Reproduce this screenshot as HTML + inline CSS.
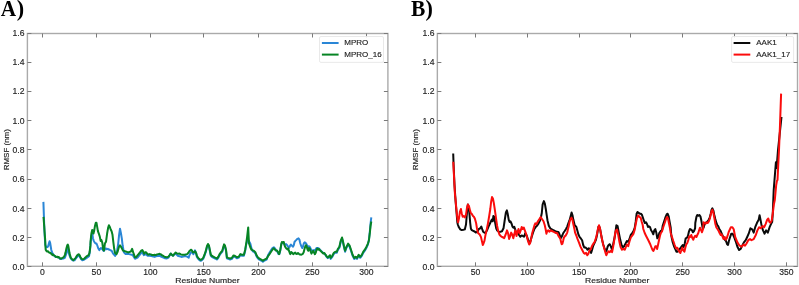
<!DOCTYPE html><html><head><meta charset="utf-8"><style>html,body{margin:0;padding:0;background:#fff;width:799px;height:285px;overflow:hidden}svg{display:block;will-change:transform}text{font-family:"Liberation Sans",sans-serif}.s{font-family:"Liberation Serif",serif;font-weight:bold}</style></head><body>
<svg width="799" height="285" viewBox="0 0 799 285">
<rect width="799" height="285" fill="#fff"/>
<polyline points="43.4,201.9 44.2,225.0 44.7,236.0 45.3,244.6 46.3,247.3 47.5,247.0 48.2,246.2 49.0,243.1 49.6,241.2 50.2,243.1 50.8,247.0 51.3,250.0 52.1,252.4 52.9,253.9 54.0,255.6 55.6,257.0 57.1,257.1 58.7,257.6 60.2,258.9 61.8,258.9 63.3,258.5 64.8,257.8 66.4,253.5 67.2,249.3 67.9,248.9 68.7,252.4 69.5,255.4 70.6,258.1 71.8,259.7 73.3,260.5 74.5,260.3 76.6,257.5 78.4,255.5 79.7,256.4 81.0,259.0 82.3,260.2 84.0,259.8 85.6,258.6 87.4,257.4 89.0,256.2 89.8,252.0 90.4,246.0 91.3,236.0 92.4,233.5 92.9,238.2 93.7,240.6 94.6,242.4 95.5,243.4 96.5,243.5 97.3,245.5 98.3,248.5 99.4,250.1 100.2,248.8 101.0,248.0 101.9,248.8 102.7,249.6 103.6,250.9 104.4,250.5 105.2,248.4 106.1,248.4 106.9,249.2 107.8,248.8 108.6,249.6 109.4,249.6 110.3,250.1 111.1,250.5 112.0,251.3 112.8,253.0 113.6,254.3 114.5,255.1 115.1,255.9 116.8,252.4 118.2,243.6 119.1,234.8 120.0,228.7 120.9,233.0 121.8,238.3 122.6,245.3 123.9,252.4 125.6,254.1 129.1,254.1 132.6,255.0 135.0,258.8 137.5,257.6 140.1,254.4 141.9,252.2 142.9,253.5 143.8,255.1 145.1,254.1 146.4,254.7 147.6,255.7 149.5,255.7 151.4,256.0 153.3,256.6 154.6,256.9 155.8,256.3 157.7,256.0 159.6,255.7 161.5,256.9 163.4,257.6 165.0,258.2 166.9,258.5 168.5,257.6 170.1,254.4 170.8,253.5 171.9,255.1 173.2,255.7 174.5,254.4 175.7,253.5 177.6,255.7 179.5,256.3 181.4,256.9 183.3,256.6 185.2,256.0 187.1,256.6 188.7,257.6 189.6,254.7 190.9,252.5 192.2,252.2 193.4,254.1 195.0,250.3 195.8,252.5 196.3,254.5 196.9,257.0 198.2,258.9 199.4,260.1 200.7,260.8 202.0,260.1 203.2,258.9 204.5,255.7 205.8,251.9 207.0,246.9 208.0,245.0 208.9,246.3 209.8,250.7 210.8,255.7 212.1,257.0 213.3,257.6 214.6,258.3 215.9,258.9 217.1,259.5 218.4,257.6 219.6,255.1 220.9,253.2 222.2,251.9 223.2,248.2 224.1,245.4 224.9,246.3 226.0,250.7 226.9,258.3 228.2,258.9 230.1,259.5 231.9,258.9 233.6,256.4 235.1,257.0 237.0,258.3 238.9,257.6 240.4,255.1 242.0,255.7 243.9,255.7 245.2,250.7 246.2,244.4 247.3,241.0 248.6,240.5 250.3,243.4 251.5,248.5 252.8,251.3 254.0,251.9 255.3,253.2 256.6,256.4 257.8,258.3 259.1,259.5 260.4,260.1 261.6,260.8 262.9,261.8 264.1,260.8 265.4,260.1 266.7,259.5 268.0,255.2 269.6,252.5 271.2,249.9 272.7,247.8 273.8,247.3 274.8,248.3 275.9,249.9 277.5,252.0 278.5,254.1 279.4,254.1 280.4,249.9 281.5,243.6 282.7,242.5 284.0,243.6 285.1,244.6 286.1,244.1 287.2,245.2 288.2,246.7 289.1,247.8 290.1,245.7 290.9,244.6 292.0,245.7 293.1,246.7 293.8,245.2 294.5,242.0 295.4,240.9 296.4,239.9 297.5,238.8 298.5,238.3 299.4,239.5 300.0,242.3 300.5,244.0 301.4,246.3 302.3,248.0 303.1,246.3 303.8,243.5 304.7,242.4 305.6,242.9 306.4,244.0 307.2,245.7 308.1,246.9 309.0,246.3 309.8,246.9 310.6,248.5 311.5,250.2 312.4,250.8 313.2,250.2 314.3,250.8 315.4,249.7 316.5,248.0 317.7,248.0 318.8,248.5 319.9,249.7 321.0,250.8 322.2,251.9 323.3,253.0 325.0,254.2 326.7,257.0 327.8,258.1 328.9,257.0 330.0,255.8 330.6,258.9 332.3,256.8 333.9,253.8 335.3,252.8 336.7,252.8 338.0,249.7 339.4,247.7 340.8,241.5 342.0,238.5 342.8,241.5 344.1,247.7 345.1,251.7 346.5,247.7 348.1,244.6 349.6,246.6 351.0,250.7 352.6,255.8 354.3,258.9 355.7,257.8 357.1,258.9 358.7,255.8 360.2,257.8 361.8,255.8 363.2,252.8 364.8,250.7 366.5,247.7 367.9,244.6 368.9,240.0 369.9,231.0 370.5,224.0 371.3,217.3" fill="none" stroke="#2a86d6" stroke-width="2" stroke-linejoin="round"/>
<polyline points="43.5,216.9 44.2,226.0 44.6,232.0 45.2,240.0 45.4,246.2 45.7,249.7 46.3,250.8 47.1,251.6 47.9,251.2 48.6,252.0 49.4,252.7 50.2,252.7 50.9,253.5 51.7,253.9 52.5,255.1 53.3,254.7 54.0,255.4 54.8,255.8 55.6,256.6 56.4,257.0 57.1,256.6 57.9,257.4 58.7,257.0 59.4,257.8 60.2,258.5 61.0,258.5 61.8,258.1 62.5,257.8 63.3,257.4 64.1,256.6 64.8,255.1 65.6,252.4 66.4,248.5 67.2,245.4 67.8,244.6 68.3,245.8 68.9,249.3 69.5,253.1 70.3,256.2 71.0,258.1 72.2,259.3 73.3,260.1 74.3,259.3 75.5,258.1 76.6,256.2 77.8,254.7 78.9,254.3 79.7,255.4 80.5,257.4 81.7,258.9 82.8,259.3 84.0,258.9 85.1,257.8 86.3,256.6 87.4,255.8 88.6,255.1 89.4,253.1 89.9,250.0 90.4,245.4 90.5,241.8 91.4,233.5 92.2,229.9 92.9,230.5 93.5,233.5 94.1,231.1 94.9,226.3 95.8,222.8 96.5,222.8 97.1,226.3 97.9,231.1 98.9,233.9 99.8,236.6 100.7,241.0 101.4,240.1 102.3,242.7 103.2,249.7 104.0,250.6 104.9,243.6 106.0,241.8 107.2,233.0 108.1,227.8 108.9,225.2 109.8,226.9 110.7,229.5 111.6,231.3 112.5,234.8 113.3,241.8 114.2,248.8 115.1,253.2 116.5,254.1 117.7,251.5 118.9,247.1 120.0,245.3 121.2,247.1 123.0,250.6 125.6,251.5 128.2,252.4 130.9,251.5 132.1,248.8 133.2,252.4 135.0,257.3 136.3,257.0 137.5,255.4 138.8,253.8 140.1,252.2 141.3,250.6 142.3,250.0 143.2,251.6 144.2,253.8 145.1,252.2 146.1,252.2 147.0,253.5 148.3,254.7 149.5,254.1 150.8,254.4 152.1,255.1 153.3,255.1 154.6,254.7 155.8,255.1 157.1,254.4 158.4,254.1 159.6,253.8 160.9,254.4 162.2,255.4 163.4,256.0 165.0,257.0 166.9,257.3 168.5,256.6 169.7,255.1 170.7,253.5 171.6,254.4 172.9,255.7 174.2,254.1 175.7,252.5 177.0,253.5 178.3,253.8 179.5,253.5 180.8,254.4 182.1,254.7 183.3,254.7 184.6,254.7 185.8,254.4 187.1,254.1 188.4,252.8 189.6,250.9 190.9,249.7 191.8,250.3 192.8,252.2 194.1,252.2 195.0,251.3 195.4,251.6 196.3,253.5 196.9,256.0 198.2,257.9 199.4,259.1 200.7,259.8 202.0,259.1 203.2,257.9 204.5,254.7 205.8,250.9 207.0,245.9 208.0,244.0 208.9,245.3 209.8,249.7 210.8,254.7 212.1,256.0 213.3,256.6 214.6,257.3 215.9,257.9 217.1,258.5 218.4,256.6 219.6,254.1 220.9,252.2 222.2,250.9 223.2,247.2 224.1,244.4 224.9,245.3 226.0,249.7 226.9,257.3 228.2,257.9 230.1,258.5 231.9,257.9 233.6,255.4 235.1,256.0 237.0,257.3 238.9,256.6 240.4,254.1 242.0,254.7 243.9,254.7 245.2,249.7 246.2,243.4 247.1,237.1 248.2,227.4 248.6,235.8 249.0,243.4 250.3,247.2 251.5,249.7 252.8,250.3 254.0,250.9 255.3,252.2 256.6,255.4 257.8,257.3 259.1,258.5 260.4,259.1 261.6,259.8 262.9,260.8 264.1,259.8 265.4,259.1 266.7,258.5 268.0,256.2 269.6,254.1 271.2,251.5 272.7,249.4 273.8,248.3 274.8,249.4 275.9,250.4 276.9,250.4 278.0,252.0 279.1,254.1 280.1,250.9 281.2,244.6 281.9,242.0 282.7,242.5 283.8,242.0 284.3,244.6 285.1,246.7 285.9,247.8 286.7,248.8 287.5,249.4 288.2,248.3 288.8,250.4 289.6,252.5 290.3,254.1 291.2,252.0 292.0,252.5 292.7,253.6 293.5,254.1 294.3,253.1 295.2,252.5 295.9,253.6 296.9,254.1 298.0,253.1 299.1,254.1 300.0,254.6 301.4,254.7 302.5,254.2 303.6,252.5 304.5,249.1 305.3,246.3 306.1,245.2 306.8,246.9 307.6,249.7 308.3,250.8 309.0,248.0 309.8,248.5 310.6,251.3 311.5,253.6 312.4,251.9 313.2,250.8 314.0,252.5 314.9,254.2 315.8,252.5 316.5,249.7 317.3,248.5 318.2,249.7 319.1,249.1 319.9,250.2 321.0,251.3 322.2,252.5 323.3,253.6 324.4,253.0 325.5,254.7 326.7,256.4 327.8,257.5 328.9,256.4 330.0,255.3 330.6,257.9 332.3,255.8 333.9,252.8 335.3,251.8 336.7,251.8 338.0,248.7 339.4,246.7 340.8,240.5 342.0,237.5 342.8,240.5 344.1,246.7 345.1,250.7 346.5,246.7 348.1,243.6 349.6,245.6 351.0,249.7 352.6,254.8 354.3,257.9 355.7,256.8 357.1,257.9 358.7,254.8 360.2,256.8 361.8,254.8 363.2,251.8 364.8,249.7 366.5,246.7 367.9,243.6 368.9,240.5 369.9,232.4 370.5,226.3 371.3,221.5" fill="none" stroke="#068424" stroke-width="2" stroke-linejoin="round"/>
<rect x="27.4" y="33.5" width="360.50" height="232.80" fill="none" stroke="#aaaaaa" stroke-width="1.4"/>
<path d="M42.50 266.3V262.3M42.50 33.5V37.5M96.50 266.3V262.3M96.50 33.5V37.5M150.50 266.3V262.3M150.50 33.5V37.5M203.50 266.3V262.3M203.50 33.5V37.5M258.50 266.3V262.3M258.50 33.5V37.5M312.50 266.3V262.3M312.50 33.5V37.5M366.50 266.3V262.3M366.50 33.5V37.5M27.4 266.50H31.4M387.9 266.50H383.9M27.4 237.50H31.4M387.9 237.50H383.9M27.4 208.50H31.4M387.9 208.50H383.9M27.4 179.50H31.4M387.9 179.50H383.9M27.4 149.50H31.4M387.9 149.50H383.9M27.4 120.50H31.4M387.9 120.50H383.9M27.4 91.50H31.4M387.9 91.50H383.9M27.4 62.50H31.4M387.9 62.50H383.9M27.4 33.50H31.4M387.9 33.50H383.9" stroke="#7a7a7a" stroke-width="1.0" fill="none"/>
<text transform="translate(42.50,274.50) scale(1.0,1)" font-size="8.6" fill="#1e1e1e" stroke="#1e1e1e" stroke-width="0.15" text-anchor="middle">0</text>
<text transform="translate(96.40,274.50) scale(1.0,1)" font-size="8.6" fill="#1e1e1e" stroke="#1e1e1e" stroke-width="0.15" text-anchor="middle">50</text>
<text transform="translate(150.30,274.50) scale(1.0,1)" font-size="8.6" fill="#1e1e1e" stroke="#1e1e1e" stroke-width="0.15" text-anchor="middle">100</text>
<text transform="translate(203.60,274.50) scale(1.0,1)" font-size="8.6" fill="#1e1e1e" stroke="#1e1e1e" stroke-width="0.15" text-anchor="middle">150</text>
<text transform="translate(258.30,274.50) scale(1.0,1)" font-size="8.6" fill="#1e1e1e" stroke="#1e1e1e" stroke-width="0.15" text-anchor="middle">200</text>
<text transform="translate(312.35,274.50) scale(1.0,1)" font-size="8.6" fill="#1e1e1e" stroke="#1e1e1e" stroke-width="0.15" text-anchor="middle">250</text>
<text transform="translate(366.35,274.50) scale(1.0,1)" font-size="8.6" fill="#1e1e1e" stroke="#1e1e1e" stroke-width="0.15" text-anchor="middle">300</text>
<text transform="translate(24.45,269.80) scale(1.0,1)" font-size="8.6" fill="#1e1e1e" stroke="#1e1e1e" stroke-width="0.15" text-anchor="end">0.0</text>
<text transform="translate(24.45,240.56) scale(1.0,1)" font-size="8.6" fill="#1e1e1e" stroke="#1e1e1e" stroke-width="0.15" text-anchor="end">0.2</text>
<text transform="translate(24.45,211.80) scale(1.0,1)" font-size="8.6" fill="#1e1e1e" stroke="#1e1e1e" stroke-width="0.15" text-anchor="end">0.4</text>
<text transform="translate(24.45,182.08) scale(1.0,1)" font-size="8.6" fill="#1e1e1e" stroke="#1e1e1e" stroke-width="0.15" text-anchor="end">0.6</text>
<text transform="translate(24.45,152.75) scale(1.0,1)" font-size="8.6" fill="#1e1e1e" stroke="#1e1e1e" stroke-width="0.15" text-anchor="end">0.8</text>
<text transform="translate(24.45,123.80) scale(1.0,1)" font-size="8.6" fill="#1e1e1e" stroke="#1e1e1e" stroke-width="0.15" text-anchor="end">1.0</text>
<text transform="translate(24.45,94.36) scale(1.0,1)" font-size="8.6" fill="#1e1e1e" stroke="#1e1e1e" stroke-width="0.15" text-anchor="end">1.2</text>
<text transform="translate(24.45,64.85) scale(1.0,1)" font-size="8.6" fill="#1e1e1e" stroke="#1e1e1e" stroke-width="0.15" text-anchor="end">1.4</text>
<text transform="translate(24.45,35.85) scale(1.0,1)" font-size="8.6" fill="#1e1e1e" stroke="#1e1e1e" stroke-width="0.15" text-anchor="end">1.6</text>
<text transform="translate(207.45,283.40) scale(1.087,1)" font-size="7.9" fill="#1e1e1e" stroke="#1e1e1e" stroke-width="0.15" text-anchor="middle">Residue Number</text>
<text transform="translate(8.50,149.70) rotate(-90) scale(1.05,1)" font-size="7.6" fill="#1e1e1e" stroke="#1e1e1e" stroke-width="0.15" text-anchor="middle">RMSF (nm)</text>
<polyline points="453.2,153.5 453.6,165.0 454.5,185.0 455.5,200.0 456.5,212.0 457.3,222.0 457.8,224.5 458.9,227.3 460.3,229.4 461.7,230.1 463.4,229.8 464.8,229.4 466.0,224.5 466.7,216.0 467.4,207.6 467.9,204.5 468.8,207.6 469.5,214.6 470.2,223.0 470.9,228.7 471.8,230.1 473.2,230.8 474.6,231.5 475.7,232.5 477.5,231.8 478.7,229.2 480.1,228.3 481.3,226.6 482.2,229.2 483.2,231.8 484.5,232.7 485.7,232.7 487.1,230.1 488.5,226.6 489.7,224.0 491.0,221.3 491.8,219.6 492.7,221.3 493.4,216.0 494.3,216.9 495.2,223.1 496.2,228.3 497.1,230.4 499.0,231.8 500.0,231.9 502.0,231.2 503.5,228.3 504.6,221.0 505.9,212.5 506.9,210.4 507.8,214.3 508.7,219.6 509.6,222.0 510.4,221.3 511.7,224.0 512.5,226.6 513.3,227.6 514.3,226.9 515.1,229.0 516.1,233.3 517.5,231.9 518.9,234.7 520.3,236.8 521.7,235.4 523.1,236.1 524.1,236.8 525.2,233.3 526.6,235.4 528.0,239.6 529.2,243.1 530.1,242.4 531.5,237.5 533.0,232.6 534.4,229.0 535.8,226.9 537.2,225.5 538.6,223.4 540.0,220.6 541.0,217.0 541.8,213.0 542.6,204.6 543.9,201.1 544.9,203.8 545.8,209.0 546.7,215.2 547.5,220.4 548.8,225.7 550.2,228.3 551.4,229.2 553.2,230.1 554.9,231.0 556.7,231.8 558.4,232.0 559.3,233.7 560.7,238.3 561.5,237.0 562.5,235.0 563.3,233.0 564.7,231.0 566.0,229.0 567.2,226.6 568.4,223.1 569.5,220.4 570.7,216.0 571.6,212.5 572.5,215.2 573.3,219.6 574.6,224.8 575.0,225.3 576.3,226.8 577.4,230.8 578.5,234.7 579.7,237.1 581.0,238.7 582.1,240.3 583.2,245.0 584.2,247.4 585.3,247.4 586.4,248.2 587.6,249.8 588.9,248.2 590.0,249.8 591.1,252.9 592.1,249.8 593.2,245.8 594.7,242.6 596.0,239.5 597.1,234.7 598.4,226.8 599.0,226.1 600.0,228.4 601.1,234.7 602.2,240.3 603.4,245.0 604.7,249.0 605.8,251.3 606.6,250.5 607.7,246.6 608.6,245.0 609.8,244.2 610.9,246.6 611.8,249.0 612.9,245.8 614.0,240.3 615.0,235.5 616.4,225.2 617.6,226.1 618.9,233.1 620.3,240.1 621.7,245.4 622.9,247.1 624.1,246.2 625.5,243.6 626.9,241.0 628.2,241.8 629.4,239.2 630.8,234.8 632.2,233.1 633.4,231.3 634.7,227.8 635.7,221.7 636.6,213.8 637.5,212.0 638.7,212.9 639.9,213.8 640.9,213.7 642.0,215.0 643.1,218.3 644.0,221.0 644.9,223.0 646.0,222.3 647.1,224.3 648.0,227.0 648.9,226.3 650.0,227.0 651.1,230.3 652.4,232.3 653.3,234.3 654.3,230.3 655.3,229.0 656.4,233.0 657.3,238.3 658.3,237.0 659.3,233.0 660.7,231.0 662.0,230.5 662.7,225.7 664.0,221.7 665.3,217.7 666.7,214.3 667.6,213.7 668.7,216.3 669.6,221.7 670.7,227.7 671.3,235.7 672.7,242.3 674.0,246.3 675.3,249.0 676.4,251.7 677.7,251.7 679.1,249.7 680.4,248.3 681.7,246.3 682.7,245.0 683.6,247.0 684.7,243.7 685.7,238.3 687.1,237.7 688.0,235.7 688.9,231.7 690.0,229.0 691.1,229.7 692.0,230.3 692.9,232.3 694.0,231.0 695.1,228.3 695.3,223.0 696.4,217.0 697.3,215.0 698.4,215.7 699.3,215.0 700.4,216.3 701.3,220.3 702.0,224.3 702.7,228.3 703.6,227.7 704.4,225.0 705.3,223.0 706.3,222.3 707.3,221.7 708.7,219.7 709.7,217.7 710.7,213.7 711.6,209.7 712.4,208.3 713.3,210.3 714.3,215.0 715.3,219.0 716.4,223.0 717.3,225.0 718.3,226.3 719.3,229.0 720.7,231.0 722.2,234.8 724.3,239.1 726.0,241.0 727.1,244.3 728.0,245.0 728.9,241.0 729.8,238.0 731.3,233.7 732.6,233.7 734.1,237.0 735.7,241.3 737.4,246.7 739.1,250.0 740.7,248.9 742.2,245.7 743.9,242.4 745.7,240.2 747.2,237.0 748.7,233.7 750.4,228.3 752.2,229.3 753.7,232.6 755.2,227.2 757.0,222.8 758.7,219.6 759.6,215.2 760.7,220.7 761.7,226.1 763.0,230.4 764.6,233.7 766.1,230.4 767.8,232.6 769.6,227.2 771.1,223.9 772.2,221.7 772.8,213.0 773.7,190.0 775.9,162.3 776.6,168.0 778.0,150.0 781.5,117.0" fill="none" stroke="#0a0a0a" stroke-width="2" stroke-linejoin="round"/>
<polyline points="453.3,161.7 454.2,180.0 455.0,195.0 455.5,199.0 456.1,206.2 457.1,216.0 458.1,222.3 458.9,218.8 459.9,211.8 460.9,209.0 461.7,213.2 462.7,216.7 463.7,216.0 464.8,217.4 466.0,214.6 466.9,208.3 467.9,204.5 469.0,206.2 470.0,210.4 470.9,213.2 471.8,213.9 473.0,216.0 473.9,216.7 474.9,218.8 476.1,223.0 477.0,228.7 478.0,232.9 479.7,234.5 481.0,237.1 482.2,242.4 482.8,245.0 483.5,243.5 484.5,240.6 485.4,235.4 486.6,230.1 488.0,223.1 489.2,216.0 490.3,209.0 491.1,202.0 492.0,197.1 492.9,198.5 493.8,202.9 494.6,208.2 495.5,214.3 496.2,219.6 497.1,225.7 498.2,231.0 499.4,234.5 500.8,236.2 502.0,237.0 503.3,237.5 504.2,238.2 505.6,234.7 507.0,230.4 508.1,233.3 509.1,238.9 510.2,236.1 511.2,232.6 512.3,234.7 513.3,238.2 514.3,234.0 515.4,230.4 516.5,236.1 517.5,231.9 518.5,229.0 519.6,233.3 520.7,230.4 521.7,226.9 522.7,229.0 523.8,227.6 524.8,230.4 525.9,233.3 526.9,236.8 528.0,241.0 529.2,244.5 530.1,243.1 531.1,238.9 532.2,233.3 533.4,229.0 534.4,225.5 535.3,223.4 536.5,224.1 537.9,221.3 539.3,219.2 540.7,217.1 542.1,219.2 543.5,221.3 544.7,225.0 545.6,229.0 546.4,233.7 547.3,231.0 548.3,230.3 549.3,231.7 550.7,230.3 552.0,231.0 553.3,231.7 554.7,232.3 556.0,233.0 557.1,233.0 557.7,234.3 558.7,236.3 559.7,237.7 560.4,239.0 561.1,242.3 561.7,244.3 562.4,243.7 563.1,241.0 563.7,238.3 564.7,236.3 565.6,235.7 566.4,234.3 567.3,232.3 568.0,229.0 568.7,226.3 569.5,222.0 570.5,219.0 571.6,217.8 572.5,220.0 573.3,224.0 574.7,230.3 575.0,232.4 576.3,235.5 577.4,238.7 579.0,242.6 580.5,246.6 582.1,249.8 583.7,252.9 584.8,253.7 586.1,252.9 587.3,255.3 588.4,253.7 589.5,250.5 590.8,249.0 592.1,245.8 593.6,243.4 594.7,241.9 596.0,237.9 597.1,233.2 598.2,227.6 599.0,225.3 599.8,227.6 600.8,233.2 601.9,238.7 603.1,244.2 604.2,248.2 605.3,252.1 606.3,255.3 607.4,252.9 608.5,251.3 609.8,252.1 611.0,250.5 612.1,252.1 613.2,246.6 614.5,238.7 615.0,234.0 615.9,230.4 617.1,229.6 618.2,234.8 619.4,241.8 620.6,247.1 622.0,249.7 623.4,248.9 624.7,249.7 625.5,248.0 626.9,244.5 628.2,246.2 629.4,241.8 630.8,237.5 632.2,235.7 633.4,233.9 634.7,229.6 635.7,224.3 636.9,218.2 638.2,215.5 639.9,217.3 640.7,217.7 641.7,221.7 642.7,225.0 643.3,229.0 644.7,233.0 646.0,235.7 647.3,238.3 648.7,241.0 650.0,243.7 651.3,247.0 652.4,249.7 653.3,251.0 654.3,249.0 655.3,246.3 656.3,246.3 657.1,249.0 658.0,245.0 659.1,239.7 660.0,235.7 660.9,233.0 662.0,231.5 663.3,227.0 664.7,223.0 666.0,219.0 667.1,217.0 668.0,218.3 668.9,223.0 670.0,228.3 670.7,233.0 672.0,237.0 673.3,241.0 674.7,245.0 676.0,248.3 677.3,247.7 678.3,249.7 679.3,251.7 680.4,253.0 681.3,250.3 682.3,247.7 683.3,250.3 684.4,251.7 685.3,247.7 686.3,244.3 687.3,243.0 688.4,239.7 689.3,236.3 690.3,237.0 691.3,235.0 692.4,238.3 693.3,239.7 694.3,237.0 695.3,235.7 696.4,237.0 697.3,235.0 698.3,233.0 699.1,230.3 700.0,227.7 700.9,229.7 702.0,232.3 703.1,229.0 703.6,222.3 704.7,223.0 705.7,223.7 706.7,222.3 707.6,223.0 708.7,221.7 709.7,219.0 710.7,215.0 711.6,211.0 712.4,209.7 713.3,212.3 714.3,217.7 715.3,223.7 716.4,227.5 717.3,228.8 718.7,231.0 719.6,233.0 720.7,235.0 721.7,234.3 722.7,237.0 723.6,239.0 724.7,237.0 725.7,239.7 726.7,238.3 727.6,235.7 728.7,232.0 730.9,227.2 732.4,227.2 733.7,229.3 735.2,237.0 737.4,242.4 739.6,245.7 741.7,246.7 743.5,244.6 745.0,245.7 746.5,243.5 748.3,240.2 750.0,239.1 751.5,240.2 753.7,239.1 755.9,234.8 757.4,230.4 759.1,227.2 760.7,228.3 762.4,226.1 764.1,227.2 765.7,223.9 767.2,219.6 768.3,218.5 769.3,221.7 770.4,222.8 771.7,220.7 772.8,213.0 773.9,204.3 774.8,200.0 776.2,185.0 776.9,181.0 777.5,180.0 779.0,150.0 780.0,125.0 781.1,93.6" fill="none" stroke="#fb0c0c" stroke-width="2" stroke-linejoin="round"/>
<rect x="437.35" y="33.5" width="360.15" height="232.80" fill="none" stroke="#aaaaaa" stroke-width="1.4"/>
<path d="M475.50 266.3V262.3M475.50 33.5V37.5M527.50 266.3V262.3M527.50 33.5V37.5M579.50 266.3V262.3M579.50 33.5V37.5M630.50 266.3V262.3M630.50 33.5V37.5M682.50 266.3V262.3M682.50 33.5V37.5M734.50 266.3V262.3M734.50 33.5V37.5M786.50 266.3V262.3M786.50 33.5V37.5M437.35 266.50H441.35M797.5 266.50H793.5M437.35 237.50H441.35M797.5 237.50H793.5M437.35 208.50H441.35M797.5 208.50H793.5M437.35 179.50H441.35M797.5 179.50H793.5M437.35 149.50H441.35M797.5 149.50H793.5M437.35 120.50H441.35M797.5 120.50H793.5M437.35 91.50H441.35M797.5 91.50H793.5M437.35 62.50H441.35M797.5 62.50H793.5M437.35 33.50H441.35M797.5 33.50H793.5" stroke="#7a7a7a" stroke-width="1.0" fill="none"/>
<text transform="translate(475.50,274.50) scale(1.0,1)" font-size="8.6" fill="#1e1e1e" stroke="#1e1e1e" stroke-width="0.15" text-anchor="middle">50</text>
<text transform="translate(527.30,274.50) scale(1.0,1)" font-size="8.6" fill="#1e1e1e" stroke="#1e1e1e" stroke-width="0.15" text-anchor="middle">100</text>
<text transform="translate(579.10,274.50) scale(1.0,1)" font-size="8.6" fill="#1e1e1e" stroke="#1e1e1e" stroke-width="0.15" text-anchor="middle">150</text>
<text transform="translate(630.90,274.50) scale(1.0,1)" font-size="8.6" fill="#1e1e1e" stroke="#1e1e1e" stroke-width="0.15" text-anchor="middle">200</text>
<text transform="translate(682.70,274.50) scale(1.0,1)" font-size="8.6" fill="#1e1e1e" stroke="#1e1e1e" stroke-width="0.15" text-anchor="middle">250</text>
<text transform="translate(734.50,274.50) scale(1.0,1)" font-size="8.6" fill="#1e1e1e" stroke="#1e1e1e" stroke-width="0.15" text-anchor="middle">300</text>
<text transform="translate(786.30,274.50) scale(1.0,1)" font-size="8.6" fill="#1e1e1e" stroke="#1e1e1e" stroke-width="0.15" text-anchor="middle">350</text>
<text transform="translate(434.45,269.80) scale(1.0,1)" font-size="8.6" fill="#1e1e1e" stroke="#1e1e1e" stroke-width="0.15" text-anchor="end">0.0</text>
<text transform="translate(434.45,240.56) scale(1.0,1)" font-size="8.6" fill="#1e1e1e" stroke="#1e1e1e" stroke-width="0.15" text-anchor="end">0.2</text>
<text transform="translate(434.45,211.80) scale(1.0,1)" font-size="8.6" fill="#1e1e1e" stroke="#1e1e1e" stroke-width="0.15" text-anchor="end">0.4</text>
<text transform="translate(434.45,182.08) scale(1.0,1)" font-size="8.6" fill="#1e1e1e" stroke="#1e1e1e" stroke-width="0.15" text-anchor="end">0.6</text>
<text transform="translate(434.45,152.75) scale(1.0,1)" font-size="8.6" fill="#1e1e1e" stroke="#1e1e1e" stroke-width="0.15" text-anchor="end">0.8</text>
<text transform="translate(434.45,123.80) scale(1.0,1)" font-size="8.6" fill="#1e1e1e" stroke="#1e1e1e" stroke-width="0.15" text-anchor="end">1.0</text>
<text transform="translate(434.45,94.36) scale(1.0,1)" font-size="8.6" fill="#1e1e1e" stroke="#1e1e1e" stroke-width="0.15" text-anchor="end">1.2</text>
<text transform="translate(434.45,64.85) scale(1.0,1)" font-size="8.6" fill="#1e1e1e" stroke="#1e1e1e" stroke-width="0.15" text-anchor="end">1.4</text>
<text transform="translate(434.45,35.85) scale(1.0,1)" font-size="8.6" fill="#1e1e1e" stroke="#1e1e1e" stroke-width="0.15" text-anchor="end">1.6</text>
<text transform="translate(617.22,283.40) scale(1.087,1)" font-size="7.9" fill="#1e1e1e" stroke="#1e1e1e" stroke-width="0.15" text-anchor="middle">Residue Number</text>
<text transform="translate(418.30,149.70) rotate(-90) scale(1.05,1)" font-size="7.6" fill="#1e1e1e" stroke="#1e1e1e" stroke-width="0.15" text-anchor="middle">RMSF (nm)</text>
<rect x="319.5" y="36.5" width="64.00" height="25.9" rx="1.5" fill="#fff" fill-opacity="0.8" stroke="#e6e6e6" stroke-width="0.9"/>
<line x1="321.9" y1="43.0" x2="338.6" y2="43.0" stroke="#2a86d6" stroke-width="2"/>
<text transform="translate(344.20,45.30) scale(1.03,1)" font-size="7.8" fill="#1e1e1e" stroke="#1e1e1e" stroke-width="0.15" text-anchor="start">MPRO</text>
<line x1="321.9" y1="54.6" x2="338.6" y2="54.6" stroke="#068424" stroke-width="2"/>
<text transform="translate(344.20,56.90) scale(1.03,1)" font-size="7.8" fill="#1e1e1e" stroke="#1e1e1e" stroke-width="0.15" text-anchor="start">MPRO_16</text>
<rect x="731.6" y="36.5" width="62.00" height="25.9" rx="1.5" fill="#fff" fill-opacity="0.8" stroke="#e6e6e6" stroke-width="0.9"/>
<line x1="733.6" y1="43.0" x2="750.3" y2="43.0" stroke="#0a0a0a" stroke-width="2"/>
<text transform="translate(756.20,45.30) scale(1.03,1)" font-size="7.8" fill="#1e1e1e" stroke="#1e1e1e" stroke-width="0.15" text-anchor="start">AAK1</text>
<line x1="733.6" y1="54.6" x2="750.3" y2="54.6" stroke="#fb0c0c" stroke-width="2"/>
<text transform="translate(756.20,56.90) scale(1.03,1)" font-size="7.8" fill="#1e1e1e" stroke="#1e1e1e" stroke-width="0.15" text-anchor="start">AAK1_17</text>
<text class="s" transform="translate(0.69,15.8) scale(0.96,1)" font-size="22.2" fill="#000">A</text>
<text class="s" transform="translate(16.76,15.8)" font-size="22.2" fill="#000">)</text>
<text class="s" transform="translate(411.1,15.8) scale(0.97,1)" font-size="22.2" fill="#000">B</text>
<text class="s" transform="translate(425.6,15.8)" font-size="22.2" fill="#000">)</text>
</svg></body></html>
